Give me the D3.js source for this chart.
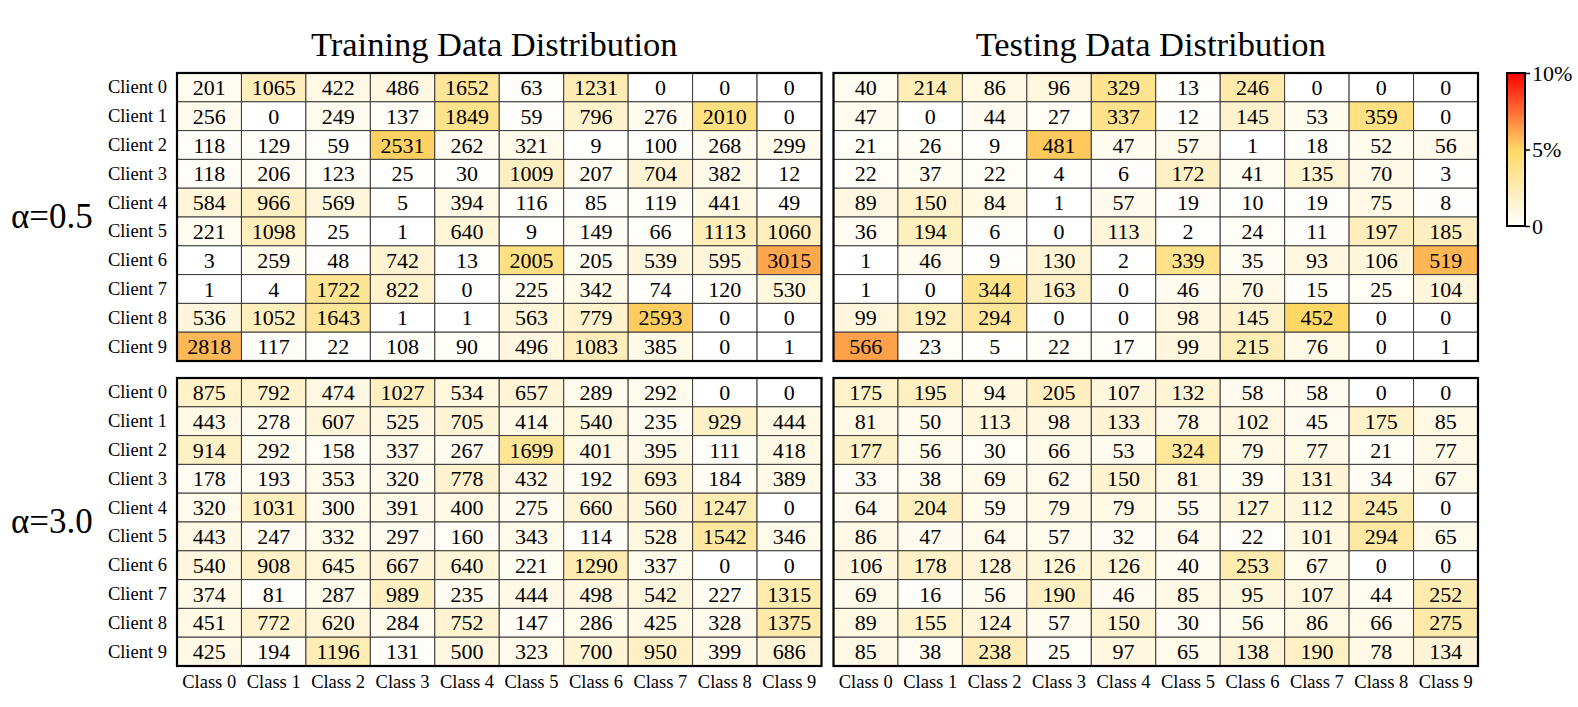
<!DOCTYPE html>
<html>
<head>
<meta charset="utf-8">
<script src="https://cdn.jsdelivr.net/npm/d3@7"></script>
<style>
  body { margin: 0; background: #fff; }
  svg text { font-family: "Liberation Serif", "Times New Roman", serif; fill: #000; }
</style>
</head>
<body>
<svg id="chart" width="1578" height="707"></svg>
<script>
const clients = ["Client 0","Client 1","Client 2","Client 3","Client 4","Client 5","Client 6","Client 7","Client 8","Client 9"];
const classes = ["Class 0","Class 1","Class 2","Class 3","Class 4","Class 5","Class 6","Class 7","Class 8","Class 9"];
const titles = ["Training Data Distribution", "Testing Data Distribution"];
const alphaLabels = ["\u03b1=0.5", "\u03b1=3.0"];
const cbTicks = [0, 0.05, 0.1];
const cbTickLabels = ["0", "5%", "10%"];

const trainA05 = [
  [201,1065,422,486,1652,63,1231,0,0,0],
  [256,0,249,137,1849,59,796,276,2010,0],
  [118,129,59,2531,262,321,9,100,268,299],
  [118,206,123,25,30,1009,207,704,382,12],
  [584,966,569,5,394,116,85,119,441,49],
  [221,1098,25,1,640,9,149,66,1113,1060],
  [3,259,48,742,13,2005,205,539,595,3015],
  [1,4,1722,822,0,225,342,74,120,530],
  [536,1052,1643,1,1,563,779,2593,0,0],
  [2818,117,22,108,90,496,1083,385,0,1]
];
const testA05 = [
  [40,214,86,96,329,13,246,0,0,0],
  [47,0,44,27,337,12,145,53,359,0],
  [21,26,9,481,47,57,1,18,52,56],
  [22,37,22,4,6,172,41,135,70,3],
  [89,150,84,1,57,19,10,19,75,8],
  [36,194,6,0,113,2,24,11,197,185],
  [1,46,9,130,2,339,35,93,106,519],
  [1,0,344,163,0,46,70,15,25,104],
  [99,192,294,0,0,98,145,452,0,0],
  [566,23,5,22,17,99,215,76,0,1]
];
const trainA30 = [
  [875,792,474,1027,534,657,289,292,0,0],
  [443,278,607,525,705,414,540,235,929,444],
  [914,292,158,337,267,1699,401,395,111,418],
  [178,193,353,320,778,432,192,693,184,389],
  [320,1031,300,391,400,275,660,560,1247,0],
  [443,247,332,297,160,343,114,528,1542,346],
  [540,908,645,667,640,221,1290,337,0,0],
  [374,81,287,989,235,444,498,542,227,1315],
  [451,772,620,284,752,147,286,425,328,1375],
  [425,194,1196,131,500,323,700,950,399,686]
];
const testA30 = [
  [175,195,94,205,107,132,58,58,0,0],
  [81,50,113,98,133,78,102,45,175,85],
  [177,56,30,66,53,324,79,77,21,77],
  [33,38,69,62,150,81,39,131,34,67],
  [64,204,59,79,79,55,127,112,245,0],
  [86,47,64,57,32,64,22,101,294,65],
  [106,178,128,126,126,40,253,67,0,0],
  [69,16,56,190,46,85,95,107,44,252],
  [89,155,124,57,150,30,56,86,66,275],
  [85,38,238,25,97,65,138,190,78,134]
];

const serif = '"Liberation Serif", "Times New Roman", serif';
const svg = d3.select("#chart");
const color = d3.scaleLinear()
  .domain([0, 0.05, 0.1])
  .range(["#ffffff", "#ffd966", "#ff0000"])
  .clamp(true);

const panelW = 644.5, panelH = 288;
const colX = [177, 833.5];
const rowY = [73, 378];

const panels = [
  {m: trainA05, c: 0, r: 0},
  {m: testA05, c: 1, r: 0},
  {m: trainA30, c: 0, r: 1},
  {m: testA30, c: 1, r: 1}
];

panels.forEach(p => {
  const total = d3.sum(p.m.flat());
  const x = d3.scaleBand().domain(classes).range([colX[p.c], colX[p.c] + panelW]);
  const y = d3.scaleBand().domain(clients).range([rowY[p.r], rowY[p.r] + panelH]);
  const g = svg.append("g");

  const cells = [];
  p.m.forEach((row, i) => row.forEach((v, j) => cells.push({i, j, v})));

  g.selectAll("rect.cell")
    .data(cells)
    .enter()
    .append("rect")
    .attr("class", "cell")
    .attr("x", d => x(classes[d.j]))
    .attr("y", d => y(clients[d.i]))
    .attr("width", x.bandwidth())
    .attr("height", y.bandwidth())
    .attr("fill", d => color(d.v / total))
    .attr("stroke", "#3a3a3a")
    .attr("stroke-width", 1);

  g.selectAll("text.val")
    .data(cells)
    .enter()
    .append("text")
    .attr("class", "val")
    .attr("x", d => x(classes[d.j]) + x.bandwidth() / 2)
    .attr("y", d => y(clients[d.i]) + y.bandwidth() / 2 + 7.5)
    .attr("text-anchor", "middle")
    .attr("font-size", "22px")
    .text(d => d.v);

  g.append("rect")
    .attr("x", colX[p.c])
    .attr("y", rowY[p.r])
    .attr("width", panelW)
    .attr("height", panelH)
    .attr("fill", "none")
    .attr("stroke", "#000")
    .attr("stroke-width", 2.2);

  // client labels on the left column only
  if (p.c === 0) {
    g.selectAll("text.client")
      .data(clients)
      .enter()
      .append("text")
      .attr("x", colX[0] - 10)
      .attr("y", d => y(d) + y.bandwidth() / 2 + 6)
      .attr("text-anchor", "end")
      .attr("font-size", "18.5px")
      .text(d => d);
  }
  // class labels under the bottom row
  if (p.r === 1) {
    g.selectAll("text.cls")
      .data(classes)
      .enter()
      .append("text")
      .attr("x", d => x(d) + x.bandwidth() / 2)
      .attr("y", 688)
      .attr("text-anchor", "middle")
      .attr("font-size", "18.5px")
      .text(d => d);
  }
});

// titles
titles.forEach((t, i) => {
  svg.append("text")
    .attr("x", colX[i] + panelW / 2 - 5)
    .attr("y", 56)
    .attr("text-anchor", "middle")
    .attr("font-size", "34.5px")
    .text(t);
});

// alpha labels
alphaLabels.forEach((t, i) => {
  svg.append("text")
    .attr("x", 11)
    .attr("y", rowY[i] + panelH / 2 + 11)
    .attr("font-size", "35px")
    .text(t);
});

// colorbar
const cbX = 1507, cbW = 18, cbTop = 73, cbBot = 226;
const defs = svg.append("defs");
const grad = defs.append("linearGradient")
  .attr("id", "cbgrad")
  .attr("x1", 0).attr("y1", 1).attr("x2", 0).attr("y2", 0);
d3.range(0, 1.0001, 0.05).forEach(t => {
  grad.append("stop")
    .attr("offset", t)
    .attr("stop-color", color(t * 0.1));
});
svg.append("rect")
  .attr("x", cbX).attr("y", cbTop)
  .attr("width", cbW).attr("height", cbBot - cbTop)
  .attr("fill", "url(#cbgrad)")
  .attr("stroke", "#000")
  .attr("stroke-width", 2);

const cbScale = d3.scaleLinear().domain([0, 0.1]).range([cbBot, cbTop]);
const cbAxis = svg.append("g")
  .attr("transform", `translate(${cbX + cbW},0)`)
  .call(d3.axisRight(cbScale).tickValues(cbTicks).tickSize(5).tickPadding(2)
    .tickFormat((d, i) => cbTickLabels[i]));
cbAxis.select(".domain").remove();
cbAxis.selectAll("line").attr("stroke", "#000").attr("stroke-width", 1.5);
cbAxis.selectAll("text")
  .style("font-family", serif)
  .style("font-size", "22px");
</script>
</body>
</html>
